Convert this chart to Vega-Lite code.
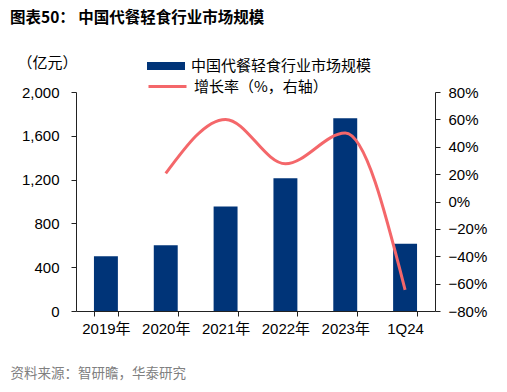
{
  "$schema": "https://vega.github.io/schema/vega-lite/v6.json",
  "width": 359,
  "height": 219,
  "autosize": {"type": "none"},
  "padding": {"left": 76, "top": 92, "right": 72, "bottom": 81},
  "background": "white",
  "config": {
    "view": {"stroke": null},
    "font": "Liberation Sans, Noto Sans CJK SC",
    "axis": {"grid": false, "domainColor": "#222", "tickColor": "#222", "labelColor": "#000", "labelFont": "Liberation Sans, Noto Sans CJK SC", "labelFontSize": 15, "tickSize": 5}
  },
  "title": {
    "text": "图表50：  中国代餐轻食行业市场规模",
    "anchor": "start",
    "frame": "group",
    "dx": -66,
    "offset": 29,
    "fontSize": 15.5,
    "fontWeight": "bold",
    "font": "Noto Sans CJK SC",
    "color": "#000"
  },
  "data": {
    "values": [
      {"period": "2019年", "size": 500, "growth": null},
      {"period": "2020年", "size": 600, "growth": 0.205},
      {"period": "2021年", "size": 955, "growth": 0.6},
      {"period": "2022年", "size": 1212, "growth": 0.275},
      {"period": "2023年", "size": 1760, "growth": 0.5},
      {"period": "1Q24", "size": 615, "growth": -0.645}
    ]
  },
  "encoding": {
    "x": {
      "field": "period",
      "type": "nominal",
      "sort": null,
      "scale": {"paddingInner": 0.6, "paddingOuter": 0.3},
      "axis": {
        "labelAngle": 0,
        "tickBand": "extent",
        "labelPadding": 5,
        "title": "资料来源：智研瞻，华泰研究",
        "titleAnchor": "start",
        "titleAlign": "left",
        "titleBaseline": "middle",
        "titleX": -66,
        "titleY": 62,
        "titleFont": "Noto Sans CJK SC",
        "titleFontSize": 13.5,
        "titleFontWeight": "normal",
        "titleColor": "#808080"
      }
    }
  },
  "layer": [
    {
      "mark": {"type": "bar", "color": "#003478"},
      "encoding": {
        "y": {
          "field": "size",
          "type": "quantitative",
          "scale": {"domain": [0, 2000]},
          "axis": {
            "values": [0, 400, 800, 1200, 1600, 2000],
            "format": ",.0f",
            "labelPadding": 12,
            "title": "（亿元）",
            "titleAngle": 0,
            "titleX": -29,
            "titleY": -30,
            "titleAlign": "center",
            "titleBaseline": "middle",
            "titleFont": "Noto Sans CJK SC",
            "titleFontSize": 15,
            "titleFontWeight": "normal",
            "titleColor": "#000"
          }
        },
        "fill": {
          "datum": "中国代餐轻食行业市场规模",
          "scale": {"range": ["#003478"]},
          "legend": {
            "title": null,
            "orient": "none",
            "legendX": 80,
            "legendY": -36,
            "symbolType": "M-1.9,-0.4L1.9,-0.4L1.9,0.4L-1.9,0.4Z",
            "symbolSize": 400,
            "symbolStrokeWidth": 0,
            "labelOffset": 15,
            "labelLimit": 400,
            "labelFont": "Noto Sans CJK SC",
            "labelFontSize": 15,
            "labelColor": "#000"
          }
        }
      }
    },
    {
      "transform": [{"filter": "datum.growth != null"}],
      "mark": {"type": "line", "interpolate": "monotone", "strokeWidth": 3, "color": "#F4676A"},
      "encoding": {
        "y": {
          "field": "growth",
          "type": "quantitative",
          "scale": {"domain": [-0.8, 0.8]},
          "axis": {
            "orient": "right",
            "values": [-0.8, -0.6, -0.4, -0.2, 0, 0.2, 0.4, 0.6, 0.8],
            "format": ".0%",
            "labelPadding": 8,
            "title": null
          }
        },
        "stroke": {
          "datum": "增长率（%，右轴）",
          "scale": {"range": ["#F4676A"]},
          "legend": {
            "title": null,
            "orient": "none",
            "legendX": 80,
            "legendY": -17,
            "symbolType": "M-1.9,0L1.9,0",
            "symbolSize": 400,
            "symbolStrokeWidth": 3,
            "labelOffset": 15,
            "labelLimit": 400,
            "labelFont": "Noto Sans CJK SC",
            "labelFontSize": 15,
            "labelColor": "#000"
          }
        }
      }
    }
  ],
  "resolve": {"scale": {"y": "independent", "fill": "independent", "stroke": "independent"}}
}
